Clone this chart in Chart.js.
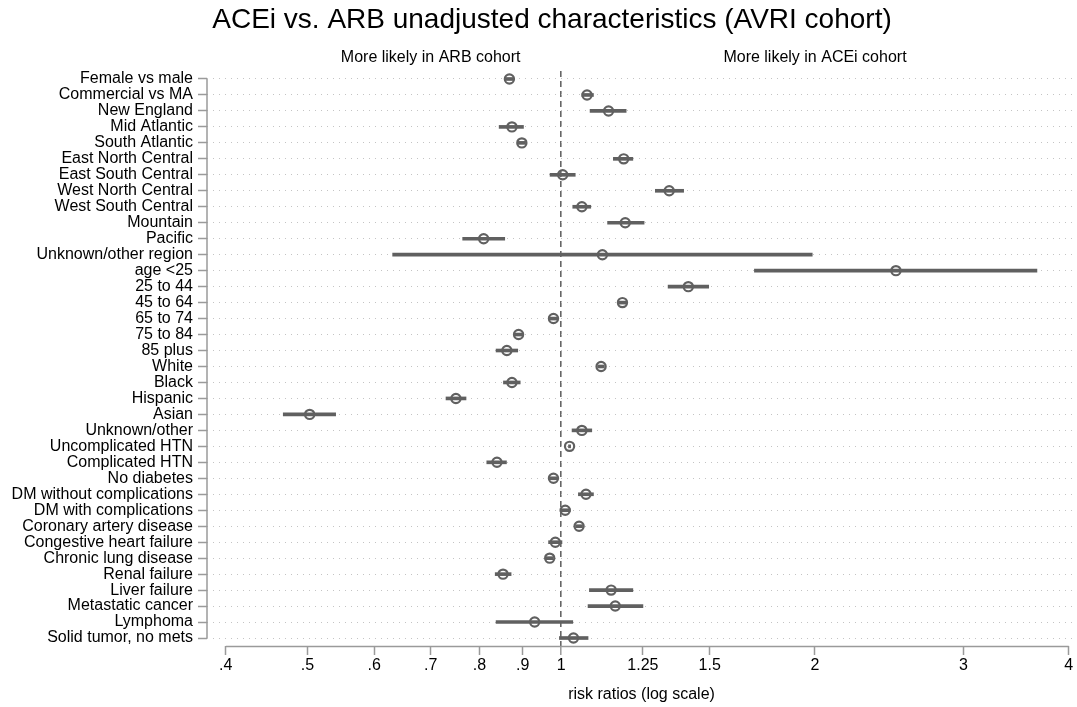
<!DOCTYPE html>
<html>
<head>
<meta charset="utf-8">
<script src="https://cdn.jsdelivr.net/npm/chart.js@4.4.1/dist/chart.umd.min.js"></script>
<style>
  html, body { margin: 0; padding: 0; background: #ffffff; }
  #wrap { width: 1077px; height: 707px; }
</style>
</head>
<body>
<div id="wrap"><canvas id="c" width="1077" height="707"></canvas></div>
<script>
const categories = [
  "Female vs male", "Commercial vs MA", "New England", "Mid Atlantic", "South Atlantic",
  "East North Central", "East South Central", "West North Central", "West South Central",
  "Mountain", "Pacific", "Unknown/other region", "age <25", "25 to 44", "45 to 64",
  "65 to 74", "75 to 84", "85 plus", "White", "Black", "Hispanic", "Asian", "Unknown/other",
  "Uncomplicated HTN", "Complicated HTN", "No diabetes", "DM without complications",
  "DM with complications", "Coronary artery disease", "Congestive heart failure",
  "Chronic lung disease", "Renal failure", "Liver failure", "Metastatic cancer",
  "Lymphoma", "Solid tumor, no mets"
];
const estimates = [
  0.868, 1.073, 1.138, 0.874, 0.898,
  1.186, 1.004, 1.343, 1.058,
  1.191, 0.809, 1.119, 2.495, 1.415, 1.182,
  0.979, 0.890, 0.862, 1.115, 0.874, 0.750, 0.503, 1.058,
  1.023, 0.839, 0.979, 1.070,
  1.011, 1.050, 0.984,
  0.969, 0.853, 1.146, 1.159,
  0.930, 1.034
];
const lowerCI = [
  0.859, 1.058, 1.082, 0.844, 0.889,
  1.153, 0.970, 1.293, 1.032,
  1.135, 0.764, 0.631, 1.695, 1.339, 1.170,
  0.969, 0.881, 0.837, 1.105, 0.854, 0.730, 0.468, 1.030,
  1.020, 0.816, 0.970, 1.048,
  0.997, 1.040, 0.966,
  0.960, 0.835, 1.080, 1.076,
  0.837, 0.995
];
const upperCI = [
  0.877, 1.092, 1.194, 0.902, 0.907,
  1.216, 1.039, 1.397, 1.084,
  1.254, 0.857, 1.985, 3.667, 1.496, 1.194,
  0.989, 0.899, 0.888, 1.125, 0.894, 0.771, 0.540, 1.087,
  1.026, 0.861, 0.988, 1.092,
  1.025, 1.060, 1.002,
  0.978, 0.872, 1.216, 1.250,
  1.032, 1.076
];
const xTickValues = [0.4, 0.5, 0.6, 0.7, 0.8, 0.9, 1, 1.25, 1.5, 2, 3, 4];
const xTickLabels = [".4", ".5", ".6", ".7", ".8", ".9", "1", "1.25", "1.5", "2", "3", "4"];
const titleText = "ACEi vs. ARB unadjusted characteristics (AVRI cohort)";
const sideLabels = ["More likely in ARB cohort", "More likely in ACEi cohort"];
const sideLabelAt = [0.7, 2];
const refValue = 1;

const FONT = "'Liberation Sans', Arial, Helvetica, sans-serif";
const MARK = "#606060";
const AXIS = "#9a9a9a";

const decor = {
  id: 'decor',
  beforeDatasetsDraw(chart) {
    const { ctx, chartArea, scales: { x, y } } = chart;
    ctx.save();
    ctx.strokeStyle = AXIS;
    ctx.lineWidth = 1.5;
    ctx.beginPath();
    ctx.moveTo(x.getPixelForValue(xTickValues[0]), chartArea.bottom + 0.5);
    ctx.lineTo(x.getPixelForValue(xTickValues[xTickValues.length - 1]), chartArea.bottom + 0.5);
    ctx.stroke();
    ctx.beginPath();
    ctx.moveTo(chartArea.left, y.getPixelForValue(0));
    ctx.lineTo(chartArea.left, y.getPixelForValue(categories.length - 1));
    ctx.stroke();
    ctx.restore();
  },
  afterDraw(chart) {
    const { ctx, chartArea, scales: { x } } = chart;
    ctx.save();
    ctx.fillStyle = "#000";
    ctx.textAlign = "center";
    ctx.textBaseline = "middle";
    ctx.font = "28px " + FONT;
    ctx.fillText(titleText, 552, 20);
    ctx.font = "16px " + FONT;
    sideLabels.forEach((t, i) => {
      ctx.fillText(t, x.getPixelForValue(sideLabelAt[i]), chartArea.top - 13);
    });
    ctx.restore();
  }
};

new Chart(document.getElementById('c'), {
  type: 'bar',
  data: {
    labels: categories,
    datasets: [
      {
        type: 'bar',
        indexAxis: 'y',
        data: categories.map((c, i) => [lowerCI[i], upperCI[i]]),
        backgroundColor: MARK,
        borderWidth: 0,
        barThickness: 3,
        borderSkipped: false,
        order: 2
      },
      {
        type: 'line',
        indexAxis: 'y',
        data: estimates,
        showLine: false,
        pointRadius: 4.6,
        pointBorderWidth: 2.2,
        pointBorderColor: MARK,
        pointBackgroundColor: 'rgba(0,0,0,0)',
        clip: false,
        order: 1
      }
    ]
  },
  options: {
    indexAxis: 'y',
    responsive: false,
    animation: false,
    events: [],
    layout: { autoPadding: false, padding: { top: 71, right: 1, bottom: 0, left: 0 } },
    plugins: {
      legend: { display: false },
      tooltip: { enabled: false },
      title: { display: false }
    },
    scales: {
      x: {
        type: 'logarithmic',
        min: 0.38,
        max: 4.08,
        afterBuildTicks(scale) {
          scale.ticks = xTickValues.map(v => ({ value: v }));
        },
        afterFit(scale) {
          scale.height = 61;
          scale.paddingLeft = 0;
          scale.paddingRight = 0;
        },
        ticks: {
          autoSkip: false,
          maxRotation: 0,
          color: '#000',
          padding: 1,
          font: { family: FONT, size: 16 },
          callback: (value, index) => xTickLabels[index]
        },
        grid: {
          color: (ctx) => (ctx.tick && ctx.tick.value === refValue) ? '#666666' : 'rgba(0,0,0,0)',
          lineWidth: (ctx) => (ctx.tick && ctx.tick.value === refValue) ? 1.6 : 1,
          tickColor: AXIS,
          tickWidth: 1.5,
          tickLength: 9,
          tickBorderDash: []
        },
        border: { display: false, dash: [6, 4] },
        title: {
          display: true,
          text: 'risk ratios (log scale)',
          color: '#000',
          font: { family: FONT, size: 16 },
          padding: { top: 0, bottom: 3 }
        }
      },
      y: {
        type: 'category',
        offset: true,
        afterFit(scale) {
          scale.width = 207;
          scale.paddingTop = 0;
          scale.paddingBottom = 0;
        },
        ticks: {
          autoSkip: false,
          color: '#000',
          padding: 5,
          font: { family: FONT, size: 16 }
        },
        grid: {
          offset: false,
          color: '#c4c4c4',
          lineWidth: 1,
          tickColor: AXIS,
          tickWidth: 1.5,
          tickLength: 9,
          tickBorderDash: []
        },
        border: { display: false, dash: [1, 5] }
      }
    }
  },
  plugins: [decor]
});
</script>
</body>
</html>
